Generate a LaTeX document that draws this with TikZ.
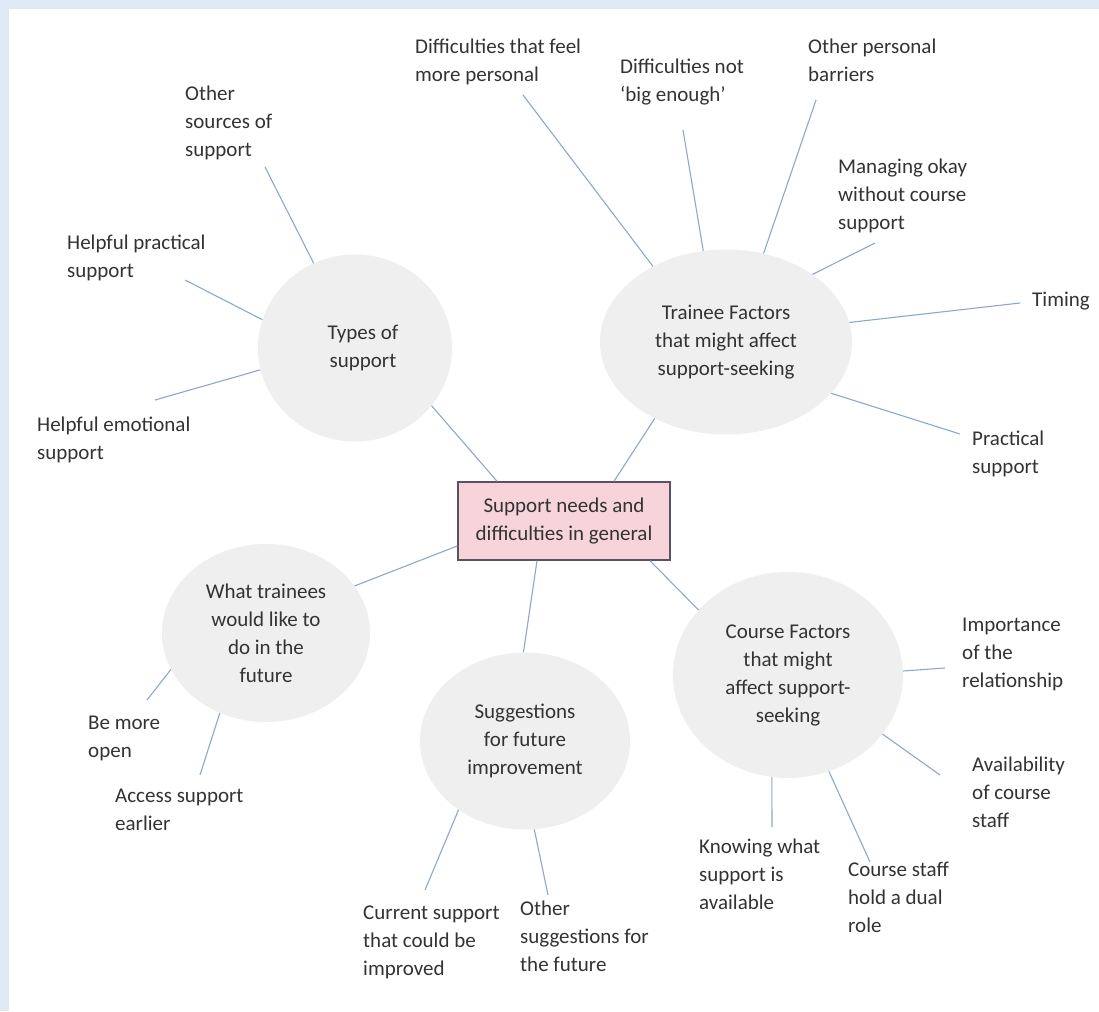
\documentclass[tikz,border=0pt]{standalone}
\usepackage{fontspec}
\setmainfont{Carlito}
\usetikzlibrary{shapes.geometric,calc}
\definecolor{bgblue}{HTML}{DEE9F5}
\definecolor{ellgrey}{HTML}{EFEFEF}
\definecolor{linkc}{HTML}{8FA7CC}
\definecolor{txt}{HTML}{333333}
\definecolor{boxpink}{HTML}{F7D3DA}
\definecolor{boxline}{HTML}{5A5262}
\tikzset{
  bubble/.style={ellipse, fill=ellgrey, draw=none, inner sep=0pt, align=center, text=txt,
     font=\fontsize{21}{28}\selectfont},
  leaf/.style={anchor=north west, inner sep=0pt, align=left, text=txt,
     font=\fontsize{21}{28}\selectfont},
  link/.style={draw=linkc, line width=1.1pt},
  centre/.style={rectangle, fill=boxpink, draw=boxline, line width=1.5pt, minimum width=212pt,
     minimum height=78pt, align=center, text=txt, font=\fontsize{21}{28}\selectfont}
}
\begin{document}
\begin{tikzpicture}[x=1pt,y=-1pt]
\fill[bgblue] (0,0) rectangle (1099,1011);
\fill[white] (9,9) rectangle (1099,1011);
\useasboundingbox (0,0) rectangle (1099,1011);

% central box
\node[centre] (central) at (564,521) {Support needs and\\difficulties in general};

% bubbles
\node[bubble, minimum width=194pt, minimum height=187pt] (types) at (355,348) {\hspace*{16pt}Types of\\\hspace*{16pt}support};
\node[bubble, minimum width=252pt, minimum height=185pt] (trainee) at (726,342) {Trainee Factors\\that might affect\\support-seeking};
\node[bubble, minimum width=208pt, minimum height=178pt] (wt) at (266,633) {What trainees\\would like to\\do in the\\future};
\node[bubble, minimum width=210pt, minimum height=177pt] (sugg) at (525,741) {Suggestions\\for future\\improvement};
\node[bubble, minimum width=230pt, minimum height=206pt] (course) at (788,675) {Course Factors\\that might\\affect support-\\seeking};

% leaves
\node[leaf] (osrc) at (185,86) {Other\\sources of\\support};
\node[leaf] (hprac) at (67,235) {Helpful practical\\support};
\node[leaf] (hemo) at (37,417) {Helpful emotional\\support};
\node[leaf] (dpers) at (415,39) {Difficulties that feel\\more personal};
\node[leaf] (dbig) at (620,59) {Difficulties not\\‘big enough’};
\node[leaf] (opers) at (808,39) {Other personal\\barriers};
\node[leaf] (manag) at (838,159) {Managing okay\\without course\\support};
\node[leaf] (timing) at (1032,292) {Timing};
\node[leaf] (pract) at (972,431) {Practical\\support};
\node[leaf] (open) at (88,716) {Be more\\open};
\node[leaf] (access) at (115,789) {Access support\\earlier};
\node[leaf] (curr) at (363,906) {Current support\\that could be\\improved};
\node[leaf] (othsug) at (520,901) {Other\\suggestions for\\the future};
\node[leaf] (import) at (962,618) {Importance\\of the\\relationship};
\node[leaf] (avail) at (972,757) {Availability\\of course\\staff};
\node[leaf] (know) at (699,839) {Knowing what\\support is\\available};
\node[leaf] (dual) at (848,862) {Course staff\\hold a dual\\role};

% free ends of connectors
\coordinate (e-osrc) at (265,167);
\coordinate (e-hprac) at (185,280);
\coordinate (e-hemo) at (155,400);
\coordinate (e-dpers) at (523,95);
\coordinate (e-dbig) at (683,130);
\coordinate (e-opers) at (816,100);
\coordinate (e-manag) at (875,243);
\coordinate (e-timing) at (1020,303);
\coordinate (e-pract) at (960,434);
\coordinate (e-open) at (147,700);
\coordinate (e-access) at (200,775);
\coordinate (e-curr) at (425,890);
\coordinate (e-othsug) at (548,895);
\coordinate (e-import) at (945,668);
\coordinate (e-avail) at (940,775);
\coordinate (e-know) at (772,827);
\coordinate (e-dual) at (870,862);

% central connectors
\draw[link] ([xshift=-67pt]central.north) -- (types.323);
\draw[link] ([xshift=50pt]central.north) -- (trainee.227.5);
\draw[link] ([yshift=-25pt]central.west) -- (wt.28.6);
\draw[link] ([xshift=-27pt]central.south) -- (sugg.91);
\draw[link] ([xshift=86pt]central.south) -- (course.144);

% leaf connectors
\draw[link] (types.116) -- (e-osrc);
\draw[link] (types.163) -- (e-hprac);
\draw[link] (types.193) -- (e-hemo);
\draw[link] (trainee.134) -- (e-dpers);
\draw[link] (trainee.104) -- (e-dbig);
\draw[link] (trainee.67) -- (e-opers);
\draw[link] (trainee.38) -- (e-manag);
\draw[link] (trainee.9) -- (e-timing);
\draw[link] (trainee.334) -- (e-pract);
\draw[link] (wt.201.7) -- (e-open);
\draw[link] (wt.240) -- (e-access);
\draw[link] (sugg.226.6) -- (e-curr);
\draw[link] (sugg.276) -- (e-othsug);
\draw[link] (course.2) -- (e-import);
\draw[link] (course.328) -- (e-avail);
\draw[link] (course.261) -- (e-know);
\draw[link] (course.293) -- (e-dual);
\end{tikzpicture}
\end{document}
